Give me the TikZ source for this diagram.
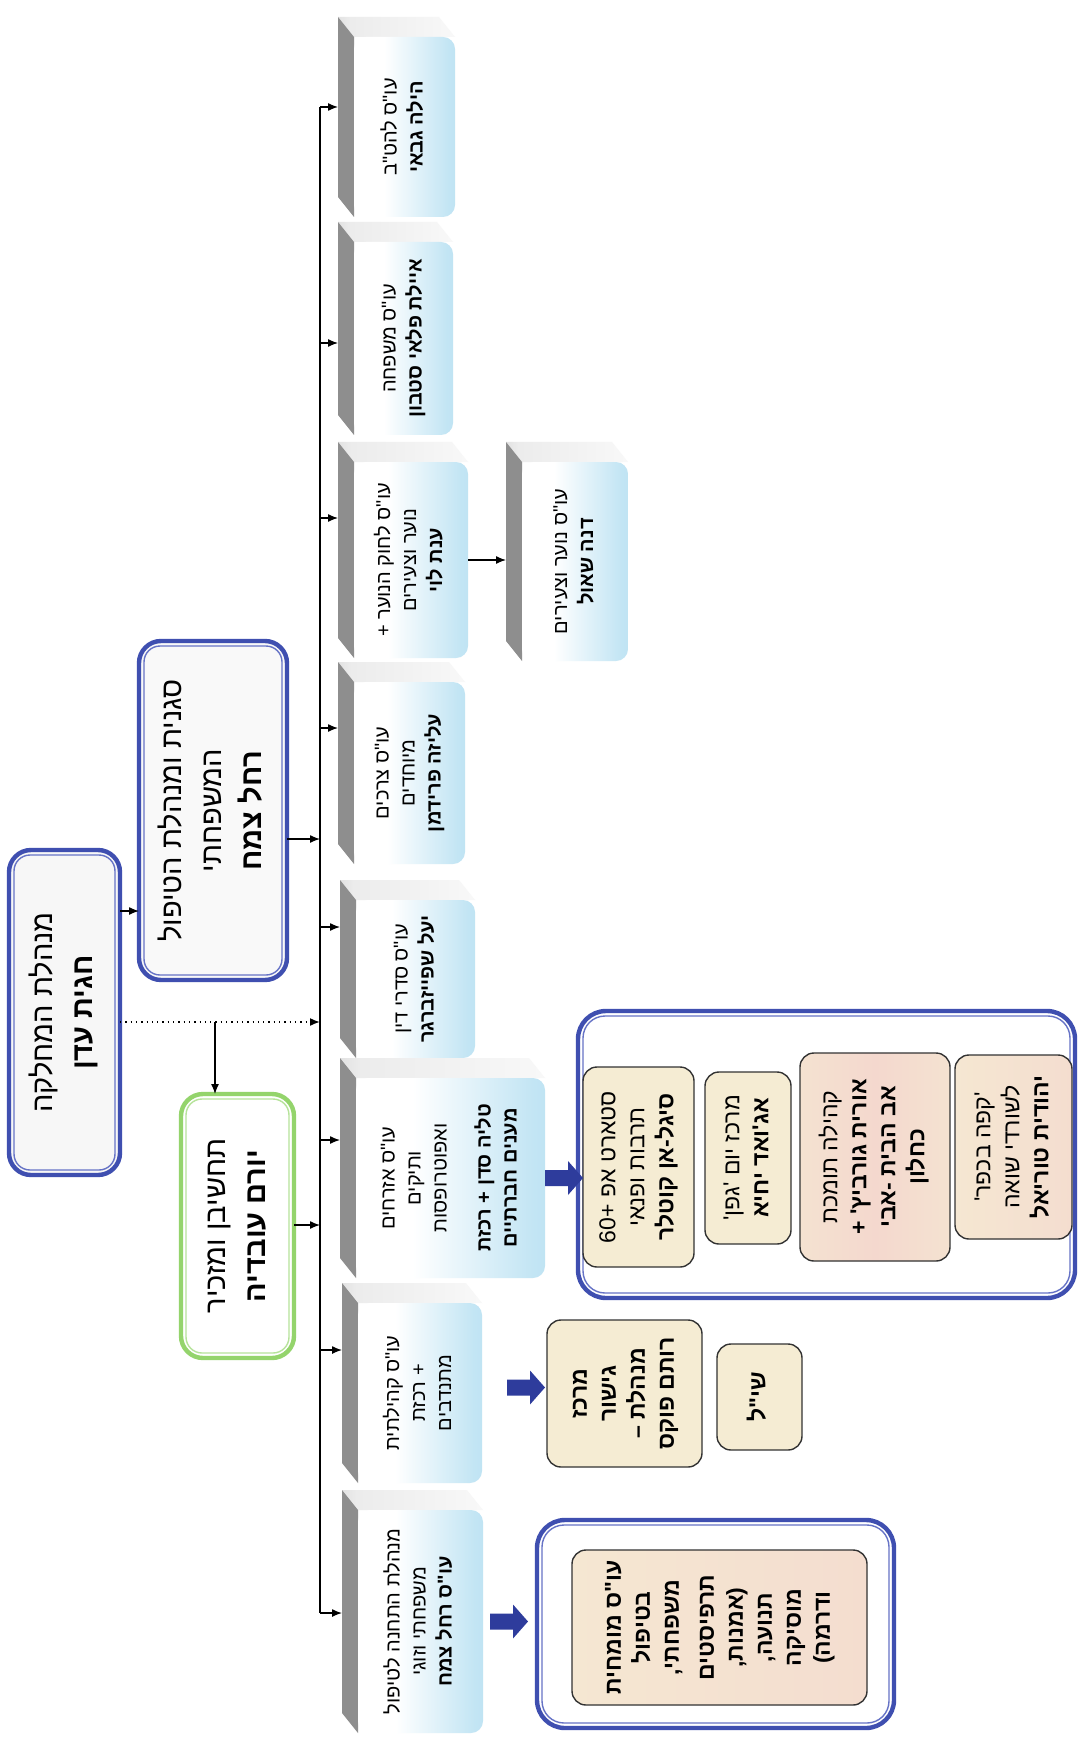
\documentclass[tikz,border=0pt]{standalone}
\usepackage{fontspec}
\usepackage{graphicx}
\newfontfamily\hb[Script=Hebrew]{Liberation Sans}
\TeXXeTstate=1
\usetikzlibrary{calc,arrows.meta}
\definecolor{dblue}{HTML}{3F4FB0}
\definecolor{dbluein}{HTML}{6673C6}
\definecolor{dgreen}{HTML}{94D46C}
\definecolor{dgreenin}{HTML}{B6E39A}
\definecolor{slabblue}{HTML}{AEDCF0}
\definecolor{sidegray}{HTML}{8E8E8E}
\definecolor{cream}{HTML}{F5ECD3}
\definecolor{pinkish}{HTML}{F4D8CE}
\definecolor{arrowblue}{HTML}{2E3C9C}
\pgfdeclarehorizontalshading{slabshade}{100bp}{color(0bp)=(white); color(40bp)=(white); color(72bp)=(slabblue!75); color(100bp)=(slabblue)}
\pgfdeclarehorizontalshading{topshade}{100bp}{color(0bp)=(gray!60); color(30bp)=(gray!15); color(100bp)=(white)}
\pgfdeclarehorizontalshading{pinkshade}{100bp}{color(0bp)=(cream); color(100bp)=(pinkish)}
\pgfdeclarehorizontalshading{midpink}{100bp}{color(0bp)=(cream); color(50bp)=(pinkish); color(100bp)=(cream)}
\newcommand\R[1]{\beginR#1\endR}
\newcommand\rl[1]{\rotatebox{90}{\begin{tabular}{@{}c@{}}#1\end{tabular}}}
\newcommand\innerline[3]{\draw[#2, line width=0.7pt, rounded corners=#3] ($(#1.south west)+(5,-5)$) rectangle ($(#1.north east)+(-5,5)$);}
\newcommand\slab[6]{%
  \shade[shading=topshade] (#2-16,#3-20) -- (#4-16,#3-20) -- (#4,#3) -- (#2,#3) -- cycle;
  \fill[sidegray] (#2-16,#3-20) -- (#2,#3) -- (#2,#5) -- (#2-16,#5-20) -- cycle;
  \node[slabfront, minimum width={(#4-#2)*0.5pt}, minimum height={(#5-#3)*0.5pt}] (#1) at ({(#2+#4)/2},{(#3+#5)/2}) {\rl{#6}};
  \coordinate (s#1) at ($(#1.west)+(-16,0)$);
}
\newcommand\barrow[1]{\fill[arrowblue] ($(#1)+(0,-8)$) -- ($(#1)+(23,-8)$) -- ($(#1)+(23,-17)$) -- ($(#1)+(38,0)$) -- ($(#1)+(23,17)$) -- ($(#1)+(23,8)$) -- ($(#1)+(0,8)$) -- cycle;}
\tikzset{
  every node/.style={inner sep=0pt, outer sep=0pt},
  bigfont/.style={font=\hb\fontsize{14.5}{20}\selectfont},
  blueframe/.style={bigfont, draw=dblue, line width=2.2pt, rounded corners=11pt},
  greenframe/.style={bigfont, draw=dgreen, line width=2.2pt, rounded corners=11pt},
  container/.style={draw=dblue, line width=2.2pt, rounded corners=14pt, fill=white},
  slabfront/.style={shade, shading=slabshade, rounded corners=6pt, font=\hb\fontsize{10}{13}\selectfont},
  gbox/.style={draw=black!80, line width=0.7pt, rounded corners=7pt, fill=cream, font=\hb\fontsize{11.5}{14.5}\selectfont},
  gboxpink/.style={gbox, shade, shading=pinkshade},
  gboxmid/.style={gbox, shade, shading=midpink},
  arr/.style={-{Latex[length=5pt,width=4pt]}, line width=0.65pt},
}
\begin{document}
\begin{tikzpicture}[x=0.5pt,y=-0.5pt]
\useasboundingbox (0,0) rectangle (1078,1743);
\fill[white] (0,0) rectangle (1078,1743);

% top level boxes
\node[blueframe, fill=gray!6, minimum width=55.5pt, minimum height=162.5pt] (root) at (64.5,1012.5)
  {\rl{\R{מנהלת המחלקה}\\ \textbf{\R{חגית עדן}}}};
\innerline{root}{dbluein}{8pt}
\node[blueframe, fill=gray!5, minimum width=74pt, minimum height=169.5pt] (box2) at (213,810.5)
  {\rl{\R{סגנית ומנהלת הטיפול}\\ \R{המשפחתי}\\ \textbf{\R{רחל צמח}}}};
\innerline{box2}{dbluein}{8pt}
\node[greenframe, fill=white, minimum width=56.5pt, minimum height=132pt] (green) at (237.5,1226)
  {\rl{\R{תחשיבן ומזכיר}\\ \textbf{\R{יורם עובדיה}}}};
\innerline{green}{dgreenin}{8pt}

% child boxes
\slab{c1}{354}{37}{455}{217}{\R{עו"ס להט"ב}\\ \textbf{\R{הילה גבאי}}}
\slab{c2}{354}{242}{453}{435}{\R{עו"ס משפחה}\\ \textbf{\R{איילת פלאי סטבון}}}
\slab{c3}{354}{462}{468}{658}{\R{עו"ס לחוק הנוער +}\\ \R{נוער וצעירים}\\ \textbf{\R{ענת לוי}}}
\slab{c4}{354}{682}{465}{864}{\R{עו"ס צרכים}\\ \R{מיוחדים}\\ \textbf{\R{עליזה פרידמן}}}
\slab{c5}{356}{900}{475}{1058}{\R{עו"ס סדרי דין}\\ \textbf{\R{יעל שפייזברגר}}}
\slab{c6}{356}{1078}{545}{1278}{\R{עו"ס אזרחים}\\ \R{ותיקים}\\ \R{ואפוטרופסות}\\[9pt] \textbf{\R{טליה סדן + רכזת}}\\ \textbf{\R{מענים חברתיים}}}
\slab{c7}{358}{1303}{482}{1483}{\R{עו"ס קהילתית}\\ \R{+ רכזת}\\ \R{מתנדבים}}
\slab{c8}{358}{1510}{483}{1733}{\R{מנהלת התחנה לטיפול}\\ \R{משפחתי וזוגי}\\ \textbf{\R{עו"ס רחל צמח}}}
\slab{sub}{522}{462}{628}{661}{\R{עו"ס נוער וצעירים}\\ \textbf{\R{דנה שאול}}}

% group under c6
\node[container, minimum width=248.5pt, minimum height=143.5pt] (grp6) at (826.5,1154.5) {};
\innerline{grp6}{dbluein}{11pt}
\node[gbox, minimum width=55.5pt, minimum height=100pt] (ga) at (638.5,1167)
  {\rl{\R{סטארט אפ \beginL+60\endL}\\ \R{תרבות ופנאי}\\ \textbf{\R{סיגל-אן קוטלר}}}};
\node[gbox, minimum width=43pt, minimum height=86pt] (gb) at (748,1158)
  {\rl{\R{מרכז יום 'גפן'}\\ \textbf{\R{אג'ואד יחיא}}}};
\node[gboxmid, minimum width=75pt, minimum height=104pt] (gc) at (875,1157)
  {\rl{\R{קהילה תומכת}\\ \textbf{\R{אורית גורביץ' +}}\\ \textbf{\R{אב הבית -אבי}}\\ \textbf{\R{כחלון}}}};
\node[gboxpink, minimum width=58.5pt, minimum height=92pt] (gd) at (1013.5,1147)
  {\rl{\R{'קפה בכפר'}\\ \R{לשורדי שואה}\\ \textbf{\R{יהודית טוריאל}}}};

% group under c7
\node[gbox, minimum width=77.5pt, minimum height=73.5pt] (med) at (624.5,1393.5)
  {\rl{\textbf{\R{מרכז}}\\ \textbf{\R{גישור}}\\ \textbf{\R{מנהלת –}}\\ \textbf{\R{רותם פוקס}}}};
\node[gbox, minimum width=42.5pt, minimum height=53pt] (shil) at (759.5,1397)
  {\rl{\textbf{\R{שי"ל}}}};

% group under c8
\node[container, minimum width=178.5pt, minimum height=104pt] (grp8) at (715.5,1624) {};
\innerline{grp8}{dbluein}{11pt}
\node[gboxpink, minimum width=147.5pt, minimum height=77.5pt] (ther) at (719.5,1627.5)
  {\rl{\textbf{\R{עו"ס מומחית}}\\ \textbf{\R{בטיפול}}\\ \textbf{\R{משפחתי,}}\\[3pt] \textbf{\R{תרפיסטים}}\\ \textbf{\R{(אמנות,}}\\ \textbf{\R{תנועה,}}\\ \textbf{\R{מוסיקה}}\\ \textbf{\R{ודרמה)}}}};

% bus and connectors
\coordinate (j1) at (320,107);
\coordinate (j2) at (320,343);
\coordinate (j3) at (320,518);
\coordinate (j4) at (320,728);
\coordinate (j5) at (320,927);
\coordinate (j6) at (320,1140);
\coordinate (j7) at (320,1350);
\coordinate (j8) at (320,1613);
\coordinate (jb) at (320,839);
\coordinate (jd) at (320,1022);
\coordinate (jg) at (320,1225);
\coordinate (gdrop) at (215,1022);
\coordinate (r2) at (0,911);
\draw[line width=0.65pt] (j1) -- (j8);
\foreach \k in {1,...,8} {\draw[arr] (j\k) -- (j\k -| sc\k);}
\draw[arr] (r2 -| root.east) -- (r2 -| box2.west);
\draw[arr] (jb -| box2.east) -- (jb);
\draw[arr, dotted, line width=0.8pt] (jd -| root.east) -- (jd);
\draw[arr] (gdrop) -- (gdrop |- green.north);
\draw[arr] (jg -| green.east) -- (jg);
\draw[arr] (c3.east) -- (c3.east -| ssub);

% block arrows
\coordinate (A6) at ($(c6.east -| grp6.west)+(-33,0)$);
\coordinate (A7) at ($(med.west)+(-40,-6)$);
\coordinate (A8) at ($(c8.east -| grp8.west)+(-47,0)$);
\barrow{A6}
\barrow{A7}
\barrow{A8}
\end{tikzpicture}
\end{document}
